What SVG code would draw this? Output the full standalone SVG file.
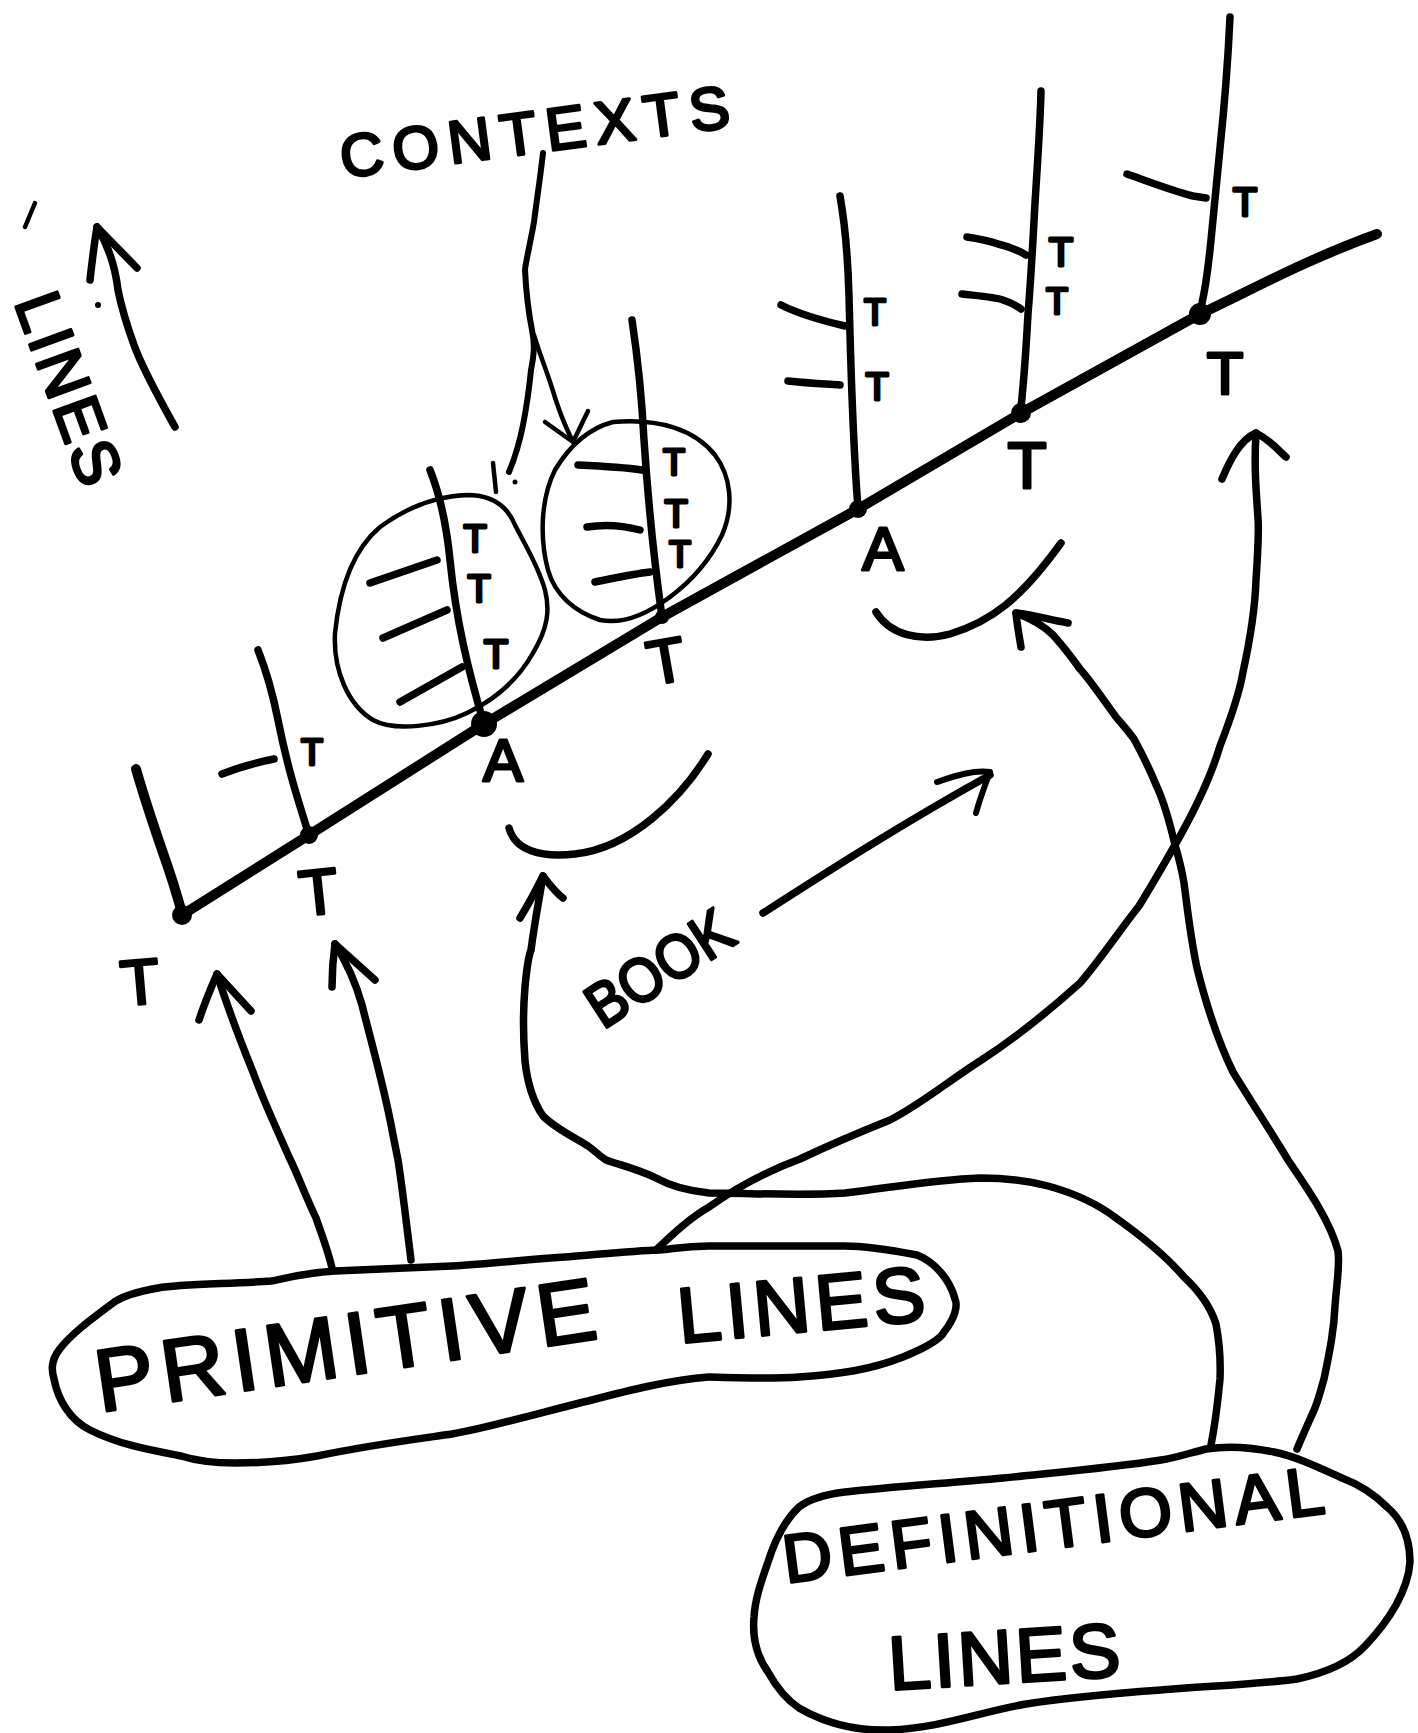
<svg xmlns="http://www.w3.org/2000/svg" width="1418" height="1733" viewBox="0 0 1418 1733">
<style>
.s{fill:none;stroke:#000;stroke-linecap:round;stroke-linejoin:round}
.w9{stroke-width:10}.w7{stroke-width:7.5}.w6{stroke-width:6}.w5{stroke-width:5}.w4{stroke-width:4.5}
.t{font-family:"Liberation Sans",Arial,sans-serif;fill:#000;stroke:#000;stroke-width:3;stroke-linejoin:round}
.c{text-anchor:middle}
.d{fill:#000}
</style>
<rect width="1418" height="1733" fill="#fff"/>

<g id="main-line">
<path class="s w9" d="M182,915 L309,835 L484,724 L662,617 L858,509 L1021,413 L1200,314 C1240,296 1300,262 1377,234"/>
<circle class="d" cx="182" cy="915" r="10"/>
<circle class="d" cx="309" cy="835" r="9"/>
<circle class="d" cx="484" cy="724" r="13"/>
<circle class="d" cx="662" cy="617" r="7"/>
<circle class="d" cx="858" cy="509" r="9"/>
<circle class="d" cx="1021" cy="413" r="10"/>
<circle class="d" cx="1200" cy="314" r="11"/>
</g>

<g id="branch-1">
<path class="s w9" d="M136,769 C142,790 150,815 162,850 C172,878 178,898 183,917"/>
<text class="t c" x="142" y="1004" font-size="64" transform="rotate(-5 142 1004)">T</text>
</g>

<g id="branch-2">
<path class="s w7" d="M258,650 C266,670 272,690 278,720 C288,770 298,800 309,835"/>
<path class="s w7" d="M222,774 C240,767 258,762 274,759"/>
<text class="t c" x="312" y="765" font-size="36">T</text>
<text class="t c" x="321" y="914" font-size="64" transform="rotate(-6 321 914)">T</text>
</g>

<g id="branch-3">
<path class="s w7" d="M430,470 C440,495 446,520 450,560 C456,620 468,670 484,724"/>
<path class="s w7" d="M370,583 L437,560"/>
<path class="s w7" d="M383,638 L447,610"/>
<path class="s w7" d="M400,702 L462,667"/>
<text class="t c" x="475" y="552" font-size="38">T</text>
<text class="t c" x="479" y="602" font-size="38">T</text>
<text class="t c" x="496" y="668" font-size="40">T</text>
<path class="s w4" d="M467,495 C440,496 410,505 380,527 C355,548 340,585 335,633 C333,670 348,705 373,720 C395,732 440,726 467,713 C490,702 515,685 533,653 C548,628 550,610 545,590 C538,565 525,545 515,525 C507,505 490,495 467,495 Z"/>
<text class="t c" x="503" y="781" font-size="60">A</text>
</g>

<g id="branch-4">
<path class="s w7" d="M632,320 C638,360 642,400 644,440 C648,500 654,560 662,617"/>
<path class="s w7" d="M578,465 C600,466 622,467 642,470"/>
<path class="s w7" d="M587,527 C605,524 625,526 640,530"/>
<path class="s w7" d="M595,582 C615,578 633,574 650,572"/>
<text class="t c" x="674" y="475" font-size="36">T</text>
<text class="t c" x="676" y="527" font-size="38">T</text>
<text class="t c" x="680" y="567" font-size="36">T</text>
<path class="s w4" d="M613,422 C590,428 570,445 555,470 C540,500 540,540 548,570 C555,595 575,612 600,620 C625,625 650,612 670,597 C690,582 710,560 722,535 C735,505 730,475 715,455 C695,430 660,418 613,422 Z"/>
<text class="t c" x="670" y="682" font-size="62" transform="rotate(-10 670 682)">T</text>
</g>

<g id="branch-5">
<path class="s w7" d="M840,196 C846,230 848,260 849,296 C851,370 852,430 858,509"/>
<path class="s w7" d="M781,305 C795,312 815,319 845,326"/>
<path class="s w7" d="M788,381 C805,383 825,384 840,385"/>
<text class="t c" x="875" y="325" font-size="36">T</text>
<text class="t c" x="877" y="400" font-size="38">T</text>
<text class="t c" x="883" y="570" font-size="62">A</text>
</g>

<g id="branch-6">
<path class="s w7" d="M1041,91 C1040,130 1037,170 1035,203 C1032,260 1030,290 1028,314 C1026,350 1024,380 1021,407"/>
<path class="s w7" d="M967,237 C980,239 990,241 998,244 C1010,247 1018,250 1026,255"/>
<path class="s w7" d="M962,294 C980,296 995,297 1003,300 C1012,303 1017,306 1021,309"/>
<text class="t c" x="1061" y="266" font-size="40">T</text>
<text class="t c" x="1057" y="314" font-size="36">T</text>
<text class="t c" x="1027" y="488" font-size="64">T</text>
</g>

<g id="branch-7">
<path class="s w7" d="M1230,17 C1228,60 1224,110 1220,148 C1216,190 1213,220 1211,240 C1208,270 1205,290 1202,303"/>
<path class="s w7" d="M1127,174 C1150,182 1170,190 1193,196 L1206,198"/>
<text class="t c" x="1245" y="216" font-size="40">T</text>
<text class="t c" x="1225" y="394" font-size="60">T</text>
</g>

<g id="label-contexts">
<text class="t" x="343" y="178" font-size="60" textLength="392" lengthAdjust="spacing" transform="rotate(-7.5 343 178)">CONTEXTS</text>
</g>

<g id="label-lines">
<path class="s w4" d="M25,227 L35,203"/>
<text class="t" x="14" y="302" font-size="64" textLength="200" lengthAdjust="spacing" transform="rotate(70 14 302)">LINES</text>
</g>

<g id="label-book">
<text class="t" x="603" y="1030" font-size="62" textLength="162" lengthAdjust="spacingAndGlyphs" transform="rotate(-33 603 1030)">BOOK</text>
</g>

<g id="smile-left">
<path class="s w7" d="M509,828 C515,850 540,858 575,854 C630,848 680,800 708,754"/>
</g>
<g id="smile-right">
<path class="s w7" d="M876,612 C890,635 920,642 950,634 C990,622 1020,600 1061,543"/>
</g>

<g id="primitive-lines">
<path class="s w7" d="M709,1246 C680,1246 670,1250 656,1250 C620,1252 590,1255 565,1257 C520,1260 490,1264 452,1266 C400,1268 360,1270 335,1271 C300,1273 280,1280 271,1281 C230,1284 180,1284 158,1288 C135,1292 122,1296 113,1303 C90,1320 70,1335 59,1350 C50,1362 52,1372 54,1379 C58,1400 70,1420 90,1430 C120,1445 150,1450 181,1456 C200,1462 220,1463 235,1463 C270,1463 295,1460 317,1456 C370,1445 410,1440 452,1434 C500,1425 550,1410 588,1401 C630,1390 670,1380 709,1377 C740,1378 770,1379 799,1377 C840,1374 870,1370 903,1357 C925,1348 940,1340 944,1332 C955,1318 958,1306 955,1299 C950,1280 935,1262 917,1255 C880,1248 860,1246 845,1246 C800,1246 750,1246 709,1246 Z"/>
<text class="t" x="100" y="1412" font-size="88" textLength="505" lengthAdjust="spacing" transform="rotate(-8.4 100 1412)">PRIMITIVE</text>
<text class="t" x="680" y="1343" font-size="78" textLength="248" lengthAdjust="spacing" transform="rotate(-5.3 680 1343)">LINES</text>
</g>

<g id="definitional-lines">
<path class="s w7" d="M1206,1449 C1190,1453 1175,1458 1161,1460 C1110,1468 1050,1473 1003,1478 C950,1483 890,1487 845,1492 C820,1495 808,1500 799,1507 C785,1520 775,1540 768,1562 C760,1585 755,1600 754,1617 C752,1640 758,1658 768,1672 C778,1690 790,1702 799,1708 C830,1726 860,1731 890,1730 C940,1728 980,1712 1026,1704 C1070,1697 1120,1693 1161,1690 C1210,1686 1260,1684 1297,1679 C1330,1672 1352,1660 1365,1646 C1390,1620 1408,1590 1410,1562 C1410,1535 1400,1518 1387,1507 C1372,1492 1358,1484 1342,1478 C1320,1468 1295,1456 1274,1452 C1250,1447 1225,1446 1206,1449 Z"/>
<text class="t" x="786" y="1583" font-size="68" textLength="545" lengthAdjust="spacing" transform="rotate(-7.4 786 1583)">DEFINITIONAL</text>
<text class="t" x="890" y="1690" font-size="76" textLength="232" lengthAdjust="spacing" transform="rotate(-3.5 890 1690)">LINES</text>
</g>

<g id="connectors">
<path class="s w7" d="M175,427 C160,400 143,370 134,345 C125,320 120,300 118,290 C115,265 108,245 97,227"/>
<path class="s w7" d="M90,280 C92,262 94,245 97,227 L137,268"/>
<circle class="d" cx="98" cy="305" r="3"/>
<path class="s w6" d="M543,153 C540,180 536,205 534,222 C530,245 526,260 525,270 C526,290 528,310 532,330 C535,345 534,355 531,370 C529,390 526,410 523,425 C519,445 514,460 509,472"/>
<path class="s w4" d="M534,335 C540,355 547,372 552,388 C557,405 562,420 573,442"/>
<path class="s w4" d="M545,422 L573,442 L588,411"/>
<path class="s w4" d="M493,463 L496,492"/>
<circle class="d" cx="515" cy="482" r="2.5"/>
<path class="s w7" d="M763,913 C830,870 900,825 990,775"/>
<path class="s w6" d="M937,782 C955,776 972,770 990,772 C985,785 980,798 976,813"/>
<path class="s w7" d="M332,1268 C328,1250 320,1230 316,1218 C305,1195 298,1175 289,1157 C275,1125 263,1100 253,1072 C240,1040 230,1015 217,974"/>
<path class="s w7" d="M199,1020 C205,1002 210,990 217,974 L251,1011"/>
<path class="s w7" d="M411,1260 C406,1220 402,1185 398,1160 C395,1145 394,1140 393,1135 C385,1090 372,1045 362,1005 C355,980 345,960 335,944"/>
<path class="s w7" d="M332,987 C332,972 333,958 335,944 L375,980"/>
<path class="s w7" d="M656,1250 C675,1232 690,1218 709,1207 C740,1185 770,1170 800,1159 C840,1140 865,1130 890,1120 C920,1105 950,1080 980,1061 C1020,1035 1050,1010 1080,983 C1100,960 1120,930 1139,906 C1155,880 1165,862 1175,845 C1195,810 1210,780 1220,746 C1232,715 1240,690 1243,672 C1250,640 1255,610 1256,580 C1258,550 1259,530 1258,518 C1256,490 1254,465 1256,433"/>
<path class="s w7" d="M1222,479 C1230,460 1240,440 1256,433 C1270,440 1278,450 1286,457"/>
<path class="s w7" d="M1297,1449 C1305,1430 1312,1415 1315,1408 C1320,1395 1322,1385 1324,1379 C1330,1350 1334,1330 1335,1306 C1337,1280 1340,1265 1338,1251 C1330,1220 1305,1185 1288,1160 C1270,1130 1250,1100 1233,1072 C1215,1035 1205,1000 1197,968 C1190,935 1187,905 1184,883 C1181,865 1178,855 1175,845 C1168,815 1163,800 1157,787 C1148,765 1140,750 1134,739 C1126,728 1120,722 1116,717 C1100,695 1090,680 1080,669 C1070,655 1062,645 1053,635 C1045,627 1035,620 1016,613"/>
<path class="s w7" d="M1021,647 C1019,635 1017,624 1016,613 C1035,615 1050,620 1068,623"/>
<path class="s w7" d="M1211,1445 C1215,1425 1218,1400 1220,1379 C1221,1355 1219,1340 1216,1324 C1210,1305 1198,1290 1184,1277 C1165,1255 1140,1235 1116,1218 C1095,1202 1070,1192 1048,1186 C1025,1180 1000,1178 980,1178 C930,1180 890,1188 845,1193 C800,1196 750,1193 709,1193 C680,1190 665,1183 656,1178 C640,1170 620,1165 606,1160 C598,1155 594,1150 588,1146 C570,1135 555,1128 543,1116 C532,1100 527,1080 525,1061 C523,1035 523,1010 525,987 C527,965 529,955 531,950 C535,920 539,900 543,876"/>
<path class="s w7" d="M520,918 C528,905 536,890 543,876 C550,885 556,893 563,898"/>
</g>
</svg>
